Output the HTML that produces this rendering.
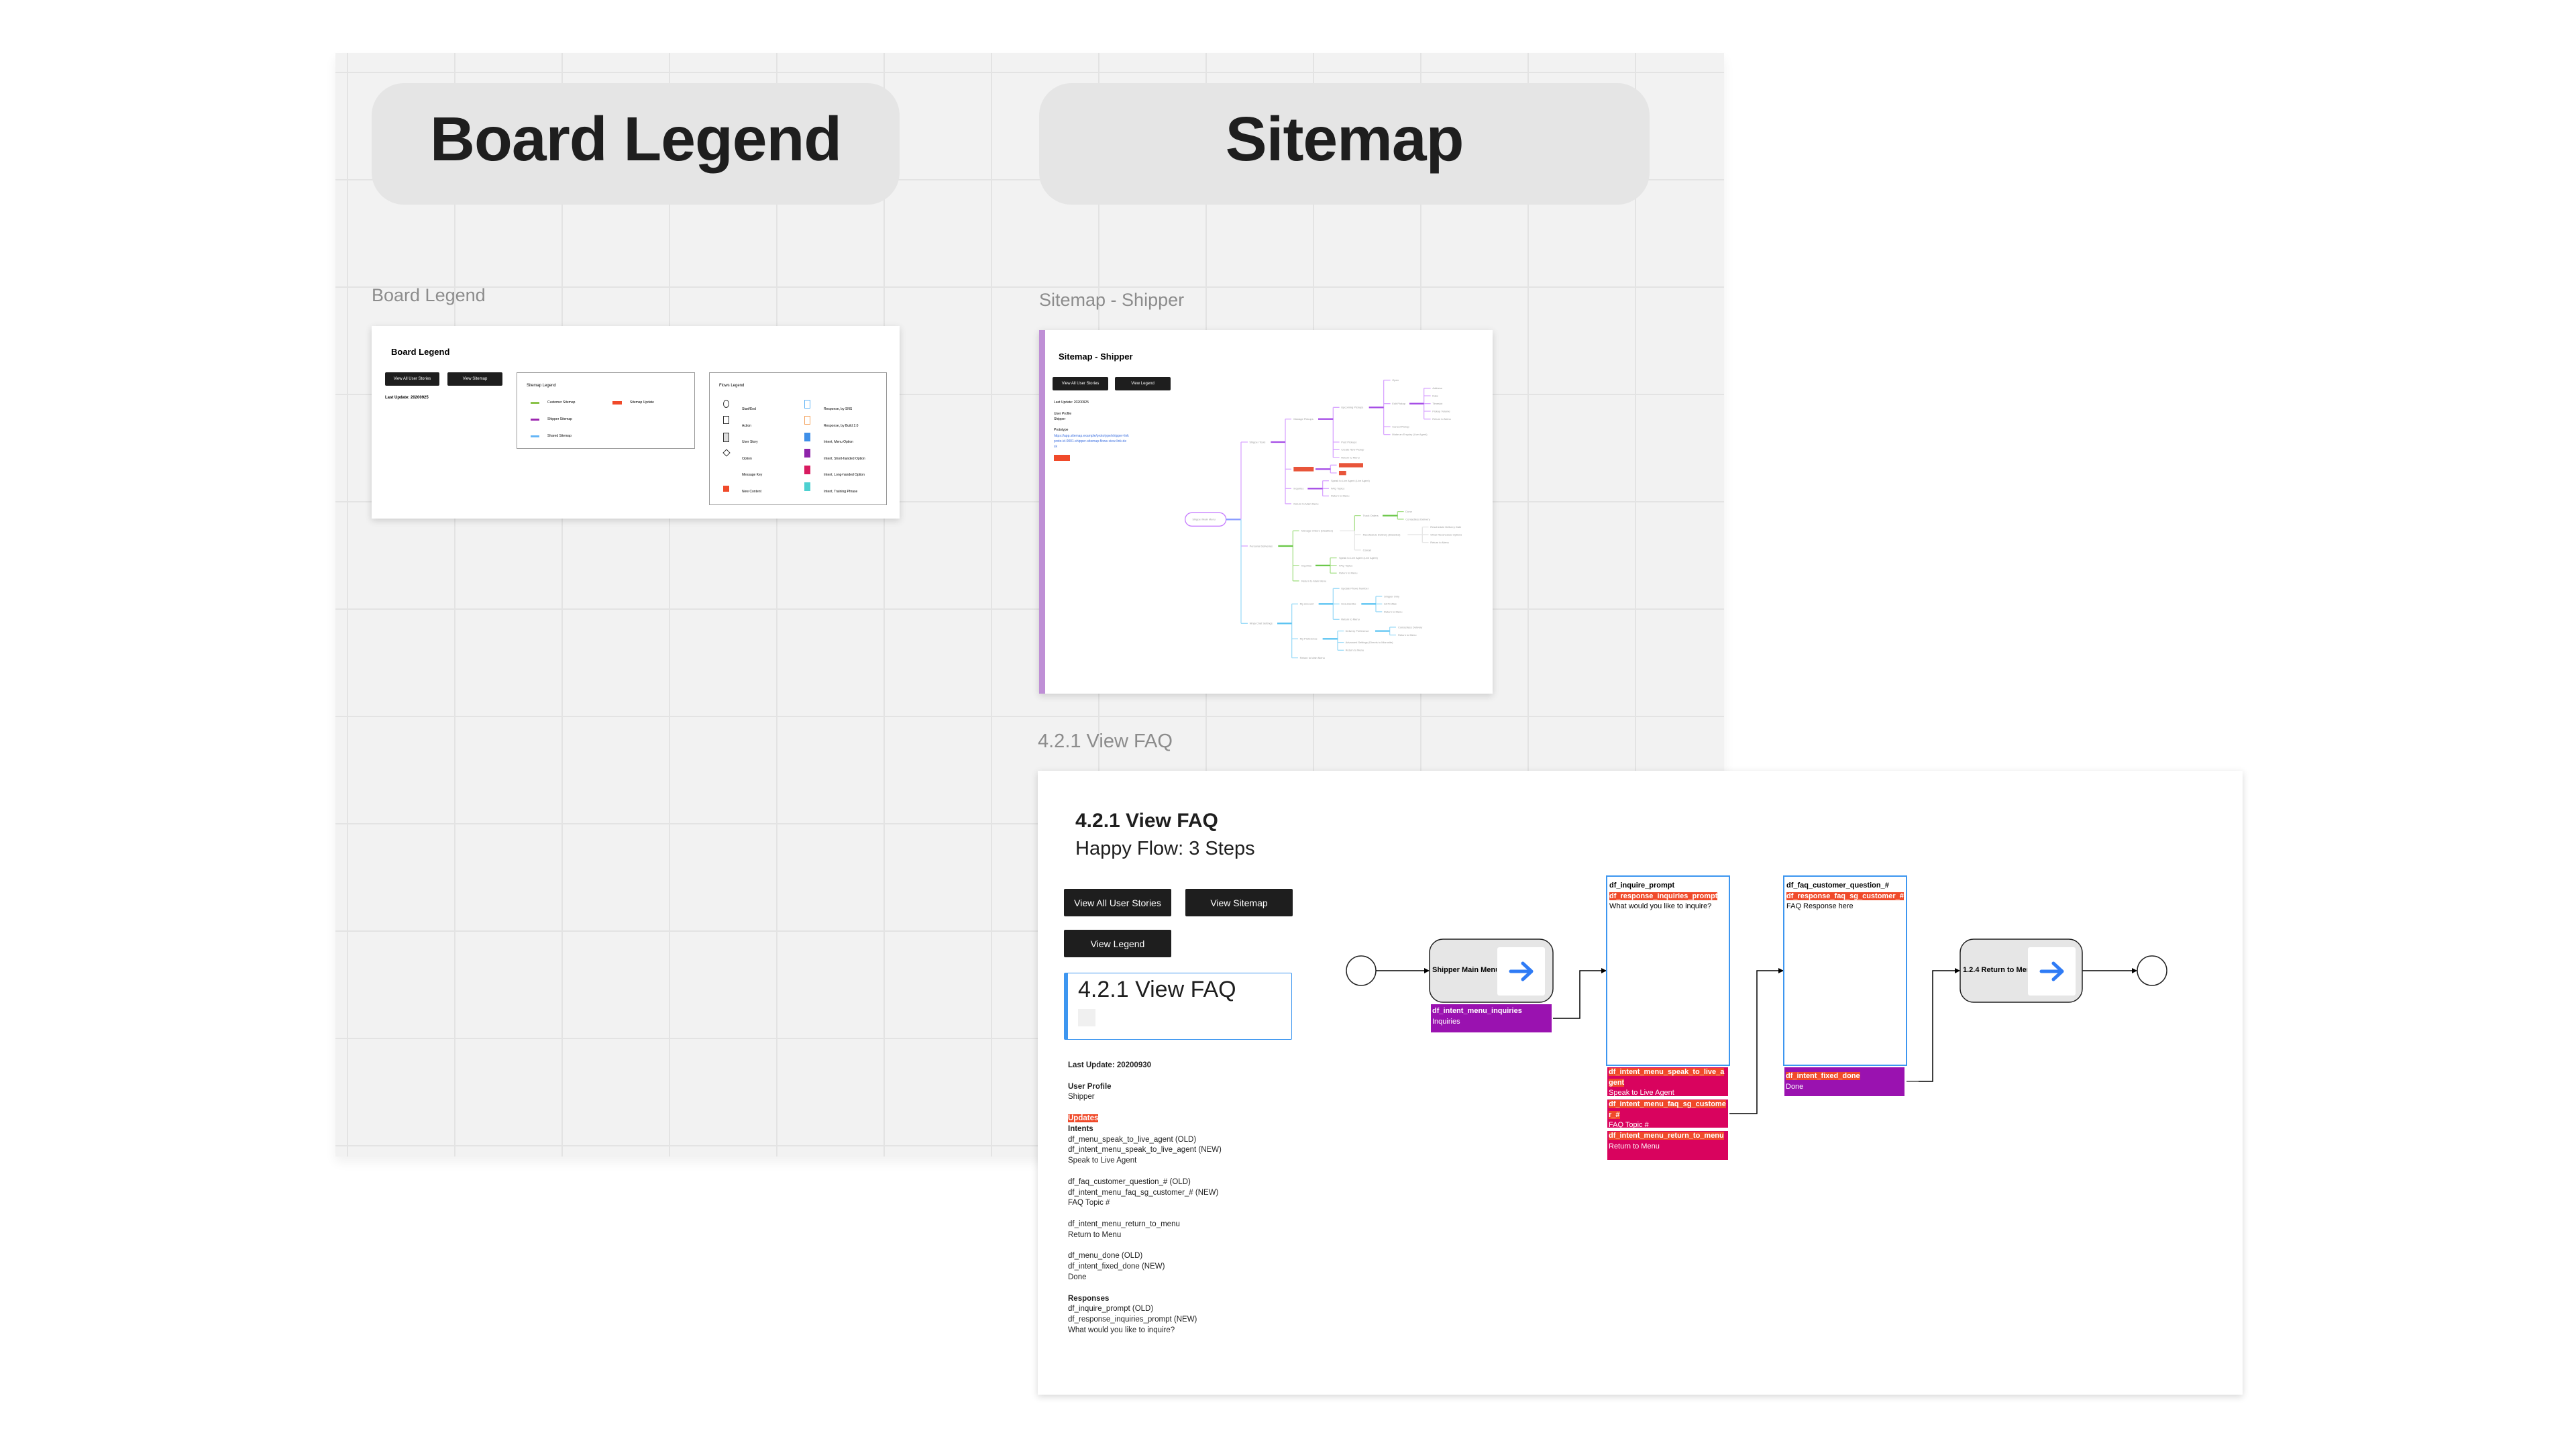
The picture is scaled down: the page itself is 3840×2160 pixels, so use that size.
<!DOCTYPE html>
<html><head><meta charset="utf-8"><style>
*{margin:0;padding:0;box-sizing:border-box}
body{width:3840px;height:2160px;background:#fff;position:relative;overflow:hidden;font-family:"Liberation Sans",sans-serif}
.a{position:absolute}
#grid{left:500px;top:79px;width:2070px;height:1645px;background-color:#f2f2f2;box-shadow:0 8px 16px rgba(0,0,0,.06);
background-image:repeating-linear-gradient(90deg,transparent 0 17px,#e3e3e3 17px 19px,transparent 19px 160px);}
#gridh{left:500px;top:79px;width:2070px;height:1645px;
background-image:repeating-linear-gradient(180deg,transparent 0 28px,#e3e3e3 28px 30px,transparent 30px 160px)}
.hdr{background:#e5e5e5;border-radius:48px;font-weight:bold;font-size:93px;color:#1e1e1e;display:flex;align-items:center;justify-content:center;letter-spacing:-1px;padding-bottom:14px}
.lbl{font-size:27px;color:#8c8c8c}
.card{background:#fff;box-shadow:0 3px 10px rgba(0,0,0,.16)}
.btn{background:#1e1e1e;color:#fff;display:flex;align-items:center;justify-content:center;border-radius:2px}
.pk{background:#d9035e;color:#fff;font-size:11px;line-height:15.5px;font-weight:bold;word-break:break-all;padding:0 2px}
.pk span.h{background:#f04a2a}
.pk .n{font-weight:normal}
.tr text{font-size:12px;fill:#9a9a9a;font-family:"Liberation Sans",sans-serif}
</style></head><body>
<div class="a" id="grid"></div>
<div class="a" id="gridh"></div>

<div class="a hdr" style="left:554px;top:124px;width:787px;height:181px">Board Legend</div>
<div class="a hdr" style="left:1549px;top:124px;width:910px;height:181px">Sitemap</div>

<div class="a lbl" style="left:554px;top:425px">Board Legend</div>
<div class="a lbl" style="left:1549px;top:432px">Sitemap - Shipper</div>
<div class="a lbl" style="left:1547px;top:1089px;font-size:29px">4.2.1 View FAQ</div>

<!-- Board legend card -->
<div class="a card" style="left:554px;top:486px;width:787px;height:287px">
  <div class="a" style="left:29px;top:31px;font-size:13px;font-weight:bold">Board Legend</div>
  <div class="a btn" style="left:20px;top:69px;width:81px;height:20px;font-size:6px">View All User Stories</div>
  <div class="a btn" style="left:113px;top:69px;width:82px;height:20px;font-size:6px">View Sitemap</div>
  <div class="a" style="left:20px;top:104px;font-size:6px;font-weight:bold">Last Update: 20200925</div>
  <div class="a" style="left:216px;top:69px;width:266px;height:114px;border:1px solid #999">
    <div class="a" style="left:14px;top:16px;font-size:6px">Sitemap Legend</div>
    <div class="a" style="left:20px;top:43px;width:13px;height:3px;background:#8bc34a"></div>
    <div class="a" style="left:45px;top:41px;font-size:5px">Customer Sitemap</div>
    <div class="a" style="left:142px;top:42px;width:14px;height:5px;background:#f04a2a"></div>
    <div class="a" style="left:168px;top:41px;font-size:5px">Sitemap Update</div>
    <div class="a" style="left:20px;top:68px;width:13px;height:3px;background:#9c27b0"></div>
    <div class="a" style="left:45px;top:66px;font-size:5px">Shipper Sitemap</div>
    <div class="a" style="left:20px;top:93px;width:13px;height:3px;background:#64b5f6"></div>
    <div class="a" style="left:45px;top:91px;font-size:5px">Shared Sitemap</div>
  </div>
  <div class="a" style="left:503px;top:69px;width:265px;height:198px;border:1px solid #999">
    <div class="a" style="left:14px;top:16px;font-size:6px">Flows Legend</div>
    <div class="a" style="left:20px;top:40px;width:9px;height:12px;border:1px solid #333;border-radius:50%"></div>
    <div class="a" style="left:20px;top:64px;width:9px;height:12px;border:1px solid #333"></div>
    <div class="a" style="left:20px;top:89px;width:9px;height:14px;border:1px solid #333;background:#ddd"></div>
    <div class="a" style="left:21px;top:115px;width:8px;height:8px;border:1px solid #333;transform:rotate(45deg)"></div>
    <div class="a" style="left:20px;top:168px;width:9px;height:9px;background:#f04a2a"></div>
    <div class="a" style="left:141px;top:40px;width:9px;height:13px;border:1px solid #64b5f6"></div>
    <div class="a" style="left:141px;top:64px;width:9px;height:13px;border:1px solid #f4a460"></div>
    <div class="a" style="left:141px;top:89px;width:9px;height:13px;background:#3f8fe8"></div>
    <div class="a" style="left:141px;top:113px;width:9px;height:13px;background:#8e24aa"></div>
    <div class="a" style="left:141px;top:138px;width:9px;height:13px;background:#d81b60"></div>
    <div class="a" style="left:141px;top:163px;width:9px;height:13px;background:#4dd0d0"></div>
    <div class="a" style="left:48px;top:42px;font-size:5px;line-height:24.5px">Start/End<br>Action<br>User Story<br>Option<br>Message Key<br>New Content</div>
    <div class="a" style="left:170px;top:42px;font-size:5px;line-height:24.5px">Response, by SNS<br>Response, by Build 2.0<br>Intent, Menu Option<br>Intent, Short-handed Option<br>Intent, Long-handed Option<br>Intent, Training Phrase</div>
  </div>
</div>

<!-- Sitemap card -->
<div class="a card" style="left:1549px;top:492px;width:676px;height:542px">
  <div class="a" style="left:0;top:0;width:9px;height:542px;background:#bf8fd6"></div>
  <div class="a" style="left:29px;top:32px;font-size:13px;font-weight:bold">Sitemap - Shipper</div>
  <div class="a btn" style="left:20px;top:70px;width:83px;height:20px;font-size:6px">View All User Stories</div>
  <div class="a btn" style="left:113px;top:70px;width:83px;height:20px;font-size:6px">View Legend</div>
  <div class="a" style="left:22px;top:104px;font-size:5px;line-height:8.3px">Last Update: 20200925<br><br>User Profile<br>Shipper<br><br>Prototype<br><span style="color:#3b6fe0">https://app.sitemap.example/prototype/shipper-link<br>proto-id-0001-shipper-sitemap-flows-view-link-de<br>sk</span></div>
  <div class="a" style="left:22px;top:186px;width:24px;height:9px;background:#f04a2a"></div>
  <svg class="a tr" style="left:0;top:0" width="676" height="542" fill="none">
   <g transform="translate(211,48) scale(0.3333)">
    <rect x="20" y="673" width="183" height="60" rx="30" stroke="#c77dff" stroke-width="4" fill="#fff"/>
    <text x="52" y="707">Shipper Main Menu</text>
    <path d="M203 703H270" stroke="#8a9cff" stroke-width="7"/>
    <g stroke="#d9a6ff" stroke-width="4">
      <path d="M270 357V703M270 357H300M270 822H300"/>
      <path d="M468 254V633M468 254H495M468 478H495M468 565H495M468 633H495"/>
      <path d="M682 202V426M682 202H710M682 357H710M682 391H710M682 426H710"/>
      <path d="M908 80V323M908 80H938M908 185H938M908 288H938M908 323H938"/>
      <path d="M1088 116V254M1088 116H1118M1088 150H1118M1088 185H1118M1088 219H1118M1088 254H1118"/>
      <path d="M670 460V495M670 460H698M670 495H698"/>
      <path d="M635 530V598M635 530H663M635 565H663M635 598H663"/>
    </g>
    <g stroke="#a64ee6" stroke-width="7">
      <path d="M403 357H468M615 254H682M842 202H908M1023 185H1088M603 478H670M568 565H635"/>
    </g>
    <rect x="505" y="468" width="90" height="20" fill="#e8553a"/>
    <rect x="708" y="451" width="108" height="19" fill="#e8553a"/>
    <rect x="708" y="486" width="32" height="19" fill="#e8553a"/>
    <g stroke="#a8e08a" stroke-width="4">
      <path d="M502 754V978M502 754H530M502 909H530M502 978H530"/>
      <path d="M778 686V754M778 686H806"/>
      <path d="M970 668V702M970 668H998M970 702H998"/>
      <path d="M669 875V943M669 875H698M669 909H698M669 943H698"/>
    </g>
    <g stroke="#6cc84a" stroke-width="7"><path d="M436 822H502M903 686H970M603 909H669"/></g>
    <g stroke="#e6e6e6" stroke-width="4">
      <path d="M712 754H778M778 754V840M778 771H806M778 840H806M1015 771H1081M1081 737V806M1081 737H1109M1081 771H1109M1081 806H1109"/>
    </g>
    <g stroke="#9fdcf8" stroke-width="4">
      <path d="M270 703V1168M270 1168H300"/>
      <path d="M497 1081V1322M497 1081H525M497 1237H525M497 1322H525"/>
      <path d="M682 1012V1150M682 1012H710M682 1081H710M682 1150H710"/>
      <path d="M873 1047V1116M873 1047H901M873 1081H901M873 1116H901"/>
      <path d="M702 1202V1288M702 1202H730M702 1253H730M702 1288H730"/>
      <path d="M935 1185V1220M935 1185H963M935 1220H963"/>
    </g>
    <g stroke="#5cc4f2" stroke-width="7"><path d="M432 1168H497M617 1081H682M808 1081H873M635 1237H702M870 1202H935"/></g>
    <text x="307" y="361">Shipper Tools</text><text x="505" y="258">Manage Pickups</text>
    <text x="718" y="206">Upcoming Pickups</text><text x="946" y="84">Open</text><text x="946" y="189">Edit Pickup</text>
    <text x="1126" y="120">Address</text><text x="1126" y="154">Date</text><text x="1126" y="189">Timeslot</text><text x="1126" y="223">Pickup Volume</text><text x="1126" y="258">Return to Menu</text>
    <text x="946" y="292">Cancel Pickup</text><text x="946" y="327">Make an Enquiry (Live Agent)</text>
    <text x="718" y="361">Past Pickups</text><text x="718" y="395">Create New Pickup</text><text x="718" y="430">Return to Menu</text>
    <text x="505" y="569">Inquiries</text><text x="672" y="534">Speak to Live Agent (Live Agent)</text><text x="672" y="569">FAQ Topics</text><text x="672" y="602">Return to Menu</text>
    <text x="505" y="637">Return to Main Menu</text>
    <text x="308" y="826">Personal Deliveries</text><text x="540" y="758">Manage Orders (Disabled)</text><text x="815" y="690">Track Orders</text>
    <text x="1006" y="672">Done</text><text x="1006" y="706">Contactless Delivery</text>
    <text x="815" y="775">Reschedule Delivery (Disabled)</text><text x="1117" y="741">Reschedule Delivery Date</text><text x="1117" y="775">Other Reschedule Options</text><text x="1117" y="810">Return to Menu</text>
    <text x="815" y="844">Cancel</text><text x="540" y="913">Inquiries</text><text x="708" y="879">Speak to Live Agent (Live Agent)</text><text x="708" y="913">FAQ Topics</text><text x="708" y="947">Return to Menu</text>
    <text x="540" y="982">Return to Main Menu</text>
    <text x="308" y="1172">Ninja Chat Settings</text><text x="533" y="1085">My Account</text><text x="718" y="1016">Update Phone Number</text><text x="718" y="1085">Unsubscribe</text>
    <text x="909" y="1051">Shipper Only</text><text x="909" y="1085">All Profiles</text><text x="909" y="1120">Return to Menu</text><text x="718" y="1154">Return to Menu</text>
    <text x="533" y="1241">My Preference</text><text x="737" y="1206">Delivery Preference</text><text x="972" y="1189">Contactless Delivery</text><text x="972" y="1224">Return to Menu</text>
    <text x="737" y="1257">Advanced Settings (Directs to Microsite)</text><text x="737" y="1292">Return to Menu</text><text x="533" y="1326">Return to Main Menu</text>
   </g>
  </svg>
</div>

<!-- Big card -->
<div class="a card" style="left:1547px;top:1149px;width:1796px;height:930px">
  <div class="a" style="left:56px;top:58px;font-size:30px;font-weight:bold;color:#1e1e1e">4.2.1 View FAQ</div>
  <div class="a" style="left:56px;top:100px;font-size:29px;color:#1e1e1e">Happy Flow: 3 Steps</div>
  <div class="a btn" style="left:39px;top:176px;width:160px;height:41px;font-size:14px">View All User Stories</div>
  <div class="a btn" style="left:220px;top:176px;width:160px;height:41px;font-size:14px">View Sitemap</div>
  <div class="a btn" style="left:39px;top:237px;width:160px;height:41px;font-size:14px">View Legend</div>
  <div class="a" style="left:39px;top:301px;width:340px;height:100px;border:1px solid #3d96f0;border-left:6px solid #3d96f0;border-radius:2px">
    <div class="a" style="left:15px;top:5px;font-size:34px;color:#1e1e1e">4.2.1 View FAQ</div>
    <div class="a" style="left:15px;top:53px;width:26px;height:26px;background:#f0f0f0"></div>
  </div>
  <div class="a" style="left:45px;top:432px;font-size:11.5px;line-height:15.8px;color:#222">
    <b>Last Update: 20200930</b><br><br><b>User Profile</b><br>Shipper<br><br>
    <b style="background:#f04a2a;color:#fff">Updates</b><br><b>Intents</b><br>
    df_menu_speak_to_live_agent (OLD)<br>df_intent_menu_speak_to_live_agent (NEW)<br>Speak to Live Agent<br><br>
    df_faq_customer_question_# (OLD)<br>df_intent_menu_faq_sg_customer_# (NEW)<br>FAQ Topic #<br><br>
    df_intent_menu_return_to_menu<br>Return to Menu<br><br>
    df_menu_done (OLD)<br>df_intent_fixed_done (NEW)<br>Done<br><br>
    <b>Responses</b><br>df_inquire_prompt (OLD)<br>df_response_inquiries_prompt (NEW)<br>What would you like to inquire?
  </div>
</div>

<!-- Flow diagram -->
<svg class="a" style="left:0;top:0" width="3840" height="2160" fill="none">
  <defs><marker id="ar" markerWidth="8" markerHeight="8" refX="7" refY="4" orient="auto" markerUnits="userSpaceOnUse"><path d="M0 0L8 4L0 8Z" fill="#000"/></marker></defs>
  <circle cx="2029" cy="1447" r="22" stroke="#222" stroke-width="1.5" fill="#fff"/>
  <circle cx="3208" cy="1447" r="22" stroke="#222" stroke-width="1.5" fill="#fff"/>
  <path d="M2051 1447H2130" stroke="#000" stroke-width="1.5" marker-end="url(#ar)"/>
  <path d="M2315 1518H2355V1447H2394" stroke="#000" stroke-width="1.5" marker-end="url(#ar)"/>
  <path d="M2578 1660H2619V1447H2658" stroke="#000" stroke-width="1.5" marker-end="url(#ar)"/>
  <path d="M2842 1612H2881V1447H2921" stroke="#000" stroke-width="1.5" marker-end="url(#ar)"/>
  <path d="M2842 1612H2860" stroke="#777" stroke-width="2"/>
  <path d="M3104 1447H3185" stroke="#000" stroke-width="1.5" marker-end="url(#ar)"/>
  <rect x="2131" y="1400" width="184" height="94" rx="20" fill="#e6e6e6" stroke="#222" stroke-width="1.5"/>
  <rect x="2232" y="1412" width="71" height="72" rx="3" fill="#fff"/>
  <path d="M2252 1448H2281M2270 1436L2283 1448L2270 1460" stroke="#2f7bf5" stroke-width="5" stroke-linecap="round" stroke-linejoin="round"/>
  <rect x="2922" y="1400" width="182" height="94" rx="20" fill="#e6e6e6" stroke="#222" stroke-width="1.5"/>
  <rect x="3023" y="1412" width="71" height="72" rx="3" fill="#fff"/>
  <path d="M3043 1448H3072M3061 1436L3074 1448L3061 1460" stroke="#2f7bf5" stroke-width="5" stroke-linecap="round" stroke-linejoin="round"/>
  <rect x="2395" y="1306" width="183" height="282" stroke="#3d96f0" stroke-width="2" fill="#fff"/>
  <rect x="2659" y="1306" width="183" height="282" stroke="#3d96f0" stroke-width="2" fill="#fff"/>
</svg>
<div class="a" style="left:2135px;top:1440px;width:96px;overflow:hidden;white-space:nowrap;font-size:11px;font-weight:bold">Shipper Main Menu</div>
<div class="a" style="left:2926px;top:1440px;width:96px;overflow:hidden;white-space:nowrap;font-size:11px;font-weight:bold">1.2.4 Return to Menu</div>
<div class="a pk" style="left:2133px;top:1497px;width:180px;height:42px;background:#9a12b0;padding-top:3px">df_intent_menu_inquiries<br><span class="n">Inquiries</span></div>

<div class="a" style="left:2399px;top:1313px;width:178px;font-size:11px;line-height:15.5px;word-break:break-all">
  <b>df_inquire_prompt</b><br><b style="background:#f04a2a;color:#fff">df_response_inquiries_prompt</b><br>What would you like to inquire?
</div>
<div class="a" style="left:2663px;top:1313px;width:176px;font-size:11px;line-height:15.5px;word-break:break-all">
  <b>df_faq_customer_question_#</b><br><b style="background:#f04a2a;color:#fff">df_response_faq_sg_customer_#</b><br>FAQ Response here
</div>

<div class="a pk" style="left:2396px;top:1591px;width:180px;height:43px"><span class="h">df_intent_menu_speak_to_live_agent</span><br><span class="n">Speak to Live Agent</span></div>
<div class="a pk" style="left:2396px;top:1639px;width:180px;height:42px"><span class="h">df_intent_menu_faq_sg_customer_#</span><br><span class="n">FAQ Topic #</span></div>
<div class="a pk" style="left:2396px;top:1686px;width:180px;height:43px"><span class="h">df_intent_menu_return_to_menu</span><br><span class="n">Return to Menu</span></div>
<div class="a pk" style="left:2660px;top:1591px;width:179px;height:43px;background:#9a12b0;padding-top:6px"><span class="h">df_intent_fixed_done</span><br><span class="n">Done</span></div>
</body></html>
